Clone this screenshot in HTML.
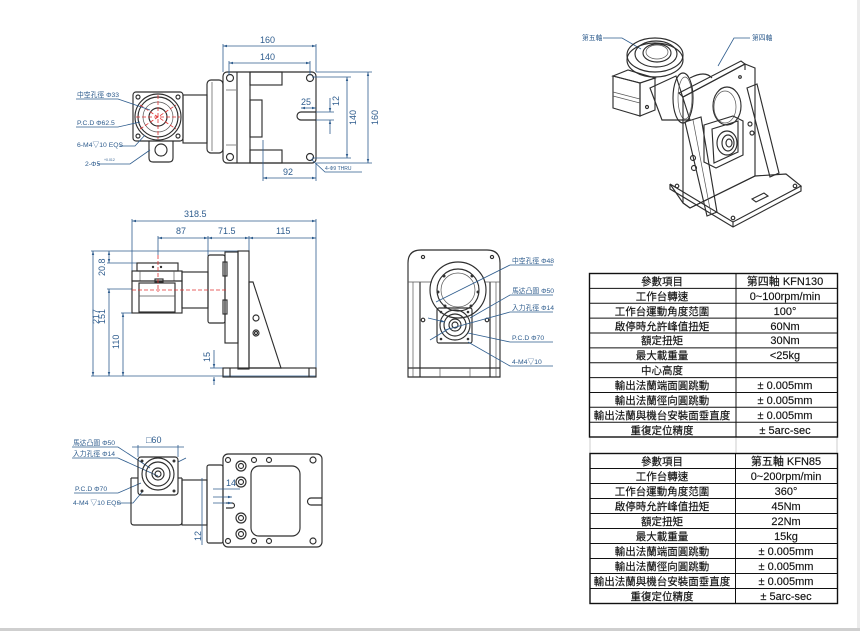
<!DOCTYPE html>
<html><head><meta charset="utf-8">
<style>
html,body{margin:0;padding:0;background:#fff;}
svg{display:block;}
.o{stroke:#2e2e2e;fill:none;stroke-width:1.15;}
.t{stroke:#555;fill:none;stroke-width:.7;}
.d{stroke:#2f5d8e;fill:none;stroke-width:.8;}
.r{stroke:#e03030;fill:none;stroke-width:.8;stroke-dasharray:4 2;}
.dt{fill:#2f5d8e;font-family:"Liberation Sans","Noto Sans CJK TC",sans-serif;font-size:9px;}
.lb{fill:#2f5d8e;font-family:"Liberation Sans","Noto Sans CJK TC",sans-serif;font-size:6.8px;}
.tb{fill:#111;font-family:"Liberation Sans","Noto Sans CJK TC",sans-serif;font-size:10.5px;stroke:#111;stroke-width:.15;}
.tv{fill:#111;font-family:"Liberation Sans","Noto Sans CJK TC",sans-serif;font-size:11px;stroke:#111;stroke-width:.15;}
</style></head>
<body>
<svg width="860" height="631" viewBox="0 0 860 631" xmlns="http://www.w3.org/2000/svg">
<defs>
<marker id="a" viewBox="0 0 10 10" refX="10" refY="5" markerWidth="5" markerHeight="5" orient="auto-start-reverse"><path d="M0,2 L10,5 L0,8z" fill="#2f5d8e"/></marker>
</defs>
<rect x="0" y="0" width="860" height="631" fill="#fff"/>
<rect x="857" y="0" width="3" height="628" fill="#ececec"/>
<rect x="0" y="628" width="860" height="3" fill="#cfcfcf"/>

<!-- ============ DRAWING 1 (top-left) ============ -->
<g>
<rect class="o" x="223" y="72" width="93" height="91" rx="4"/>
<circle class="o" cx="230" cy="78" r="3.5"/><circle class="o" cx="310" cy="78" r="3.5"/>
<circle class="o" cx="230" cy="157" r="3.5"/><circle class="o" cx="310" cy="157" r="3.5"/>
<line class="o" x1="237" y1="72" x2="237" y2="163"/>
<line class="o" x1="250" y1="72" x2="250" y2="163"/>
<rect class="o" x="250" y="72" width="32" height="13"/>
<rect class="o" x="250" y="150" width="32" height="13"/>
<rect class="o" x="250" y="100" width="12" height="37"/>
<line class="t" x1="226" y1="90" x2="236" y2="90"/><line class="t" x1="226" y1="145" x2="236" y2="145"/>
<path class="o" d="M316 112 H301 a4 4 0 0 0 0 8 H316"/>
<rect class="o" x="207" y="80" width="16" height="73" rx="4"/>
<line class="t" x1="212" y1="82" x2="212" y2="151"/>
<rect class="o" x="183" y="95" width="24" height="48"/>
<rect class="o" x="133" y="92" width="50" height="49" rx="3"/>
<circle class="o" cx="138" cy="97" r="2"/><circle class="o" cx="178" cy="97" r="2"/><circle class="o" cx="138" cy="136" r="2"/><circle class="o" cx="178" cy="136" r="2"/>
<circle class="o" cx="158" cy="117" r="23"/>
<circle class="o" cx="158" cy="117" r="20"/>
<circle class="t" cx="158" cy="117" r="15"/>
<circle class="o" cx="158" cy="117" r="9"/>
<path class="o" d="M149 141 V158 q0 4 4 4 H169 q4 0 4 -4 V141"/>
<circle class="o" cx="161" cy="150" r="6"/>
<line class="r" x1="136" y1="117" x2="180" y2="117"/>
<line class="r" x1="158" y1="95" x2="158" y2="139"/>
<line class="r" x1="140" y1="105" x2="176" y2="129"/>
<line class="r" x1="140" y1="129" x2="176" y2="105"/>
<!-- dims -->
<line class="d" x1="223" y1="44" x2="223" y2="72"/><line class="d" x1="316" y1="44" x2="316" y2="72"/>
<line class="d" x1="223" y1="46" x2="316" y2="46" marker-start="url(#a)" marker-end="url(#a)"/>
<text class="dt" x="260" y="43">160</text>
<line class="d" x1="229" y1="61" x2="229" y2="75"/><line class="d" x1="310" y1="61" x2="310" y2="75"/>
<line class="d" x1="229" y1="63" x2="310" y2="63" marker-start="url(#a)" marker-end="url(#a)"/>
<text class="dt" x="260" y="60">140</text>
<line class="d" x1="316" y1="72" x2="372" y2="72"/><line class="d" x1="316" y1="163" x2="372" y2="163"/>
<line class="d" x1="368" y1="72" x2="368" y2="163" marker-start="url(#a)" marker-end="url(#a)"/>
<text class="dt" transform="translate(378,125) rotate(-90)">160</text>
<line class="d" x1="312" y1="77" x2="351" y2="77"/><line class="d" x1="312" y1="158" x2="351" y2="158"/>
<line class="d" x1="347" y1="77" x2="347" y2="158" marker-start="url(#a)" marker-end="url(#a)"/>
<text class="dt" transform="translate(356,125) rotate(-90)">140</text>
<line class="d" x1="316" y1="112" x2="334" y2="112"/><line class="d" x1="316" y1="120" x2="334" y2="120"/>
<line class="d" x1="330" y1="98" x2="330" y2="112" marker-end="url(#a)"/><line class="d" x1="330" y1="134" x2="330" y2="120" marker-end="url(#a)"/>
<text class="dt" transform="translate(339,106) rotate(-90)">12</text>
<line class="d" x1="301" y1="108" x2="316" y2="108" marker-start="url(#a)" marker-end="url(#a)"/>
<text class="dt" x="301" y="105">25</text>
<line class="d" x1="263" y1="140" x2="263" y2="181"/><line class="d" x1="316" y1="163" x2="316" y2="181"/>
<line class="d" x1="263" y1="178" x2="316" y2="178" marker-start="url(#a)" marker-end="url(#a)"/>
<text class="dt" x="283" y="175">92</text>
<polyline class="d" points="311,159 325,172 362,172"/>
<text class="lb" x="325" y="170" style="font-size:5px">4-Φ9 THRU</text>
<!-- labels -->
<text class="lb" x="77" y="97">中空孔徑 Φ33</text>
<polyline class="d" points="76,99 118,99 150,110"/>
<text class="lb" x="77" y="125">P.C.D  Φ62.5</text>
<polyline class="d" points="76,127 118,127 140,122"/>
<text class="lb" x="77" y="147">6-M4▽10 EQS</text>
<polyline class="d" points="120,146 135,146 145,135"/>
<text class="lb" x="85" y="166">2-Φ5</text>
<text class="lb" x="104" y="161" style="font-size:3.5px">+0.012</text>
<polyline class="d" points="98,164 130,164 150,150"/>
</g>

<!-- ============ DRAWING 2 (middle-left) ============ -->
<g>
<line class="d" x1="132" y1="219" x2="132" y2="272"/>
<line class="d" x1="316" y1="219" x2="316" y2="377"/>
<line class="d" x1="132" y1="221" x2="316" y2="221" marker-start="url(#a)" marker-end="url(#a)"/>
<text class="dt" x="184" y="217">318.5</text>
<line class="d" x1="158" y1="236" x2="158" y2="255"/>
<line class="d" x1="208" y1="236" x2="208" y2="256"/>
<line class="d" x1="249" y1="236" x2="249" y2="251"/>
<line class="d" x1="158" y1="238" x2="208" y2="238" marker-start="url(#a)" marker-end="url(#a)"/>
<line class="d" x1="208" y1="238" x2="249" y2="238" marker-start="url(#a)" marker-end="url(#a)"/>
<line class="d" x1="249" y1="238" x2="316" y2="238" marker-start="url(#a)" marker-end="url(#a)"/>
<text class="dt" x="176" y="234">87</text>
<text class="dt" x="218" y="234">71.5</text>
<text class="dt" x="276" y="234">115</text>
<line class="d" x1="91" y1="251" x2="238" y2="251"/>
<line class="d" x1="107" y1="263" x2="137" y2="263"/>
<line class="d" x1="107" y1="289" x2="132" y2="289"/>
<line class="d" x1="121" y1="313" x2="132" y2="313"/>
<line class="d" x1="91" y1="376" x2="316" y2="376"/>
<line class="d" x1="93" y1="251" x2="93" y2="376" marker-start="url(#a)" marker-end="url(#a)"/>
<text class="dt" transform="translate(99,324) rotate(-90)">217</text>
<line class="d" x1="109" y1="251" x2="109" y2="263" marker-start="url(#a)" marker-end="url(#a)"/>
<text class="dt" transform="translate(105,276) rotate(-90)">20.8</text>
<line class="d" x1="109" y1="289" x2="109" y2="376" marker-start="url(#a)" marker-end="url(#a)"/>
<text class="dt" transform="translate(105,324) rotate(-90)">151</text>
<line class="d" x1="123" y1="313" x2="123" y2="376" marker-start="url(#a)" marker-end="url(#a)"/>
<text class="dt" transform="translate(119,349) rotate(-90)">110</text>
<line class="d" x1="214" y1="350" x2="214" y2="368" marker-end="url(#a)"/>
<line class="d" x1="214" y1="385" x2="214" y2="377" marker-end="url(#a)"/>
<line class="d" x1="210" y1="368" x2="223" y2="368"/>
<text class="dt" transform="translate(210,362) rotate(-90)">15</text>
<!-- parts -->
<rect class="o" x="137" y="263" width="41" height="8"/>
<circle cx="153" cy="267" r="1.2" fill="#333"/><circle cx="161" cy="267" r="1.2" fill="#333"/>
<rect class="o" x="132" y="271" width="50" height="10"/>
<line class="t" x1="140" y1="271" x2="140" y2="281"/><line class="t" x1="174" y1="271" x2="174" y2="281"/>
<rect class="o" x="132" y="281" width="50" height="32"/>
<rect class="o" x="139" y="283" width="36" height="29"/>
<line class="t" x1="139" y1="296" x2="175" y2="296"/>
<rect class="o" x="155" y="279" width="8" height="3"/>
<rect class="o" x="182" y="272" width="26" height="36"/>
<rect class="o" x="208" y="255" width="17" height="68" rx="2"/>
<rect class="o" x="225" y="252" width="13" height="91"/>
<rect class="o" x="223" y="262" width="4" height="14"/><rect class="o" x="223" y="300" width="4" height="14"/>
<rect class="o" x="238" y="251" width="11" height="118"/>
<polygon class="o" points="249,282 253,282 281,368 249,368"/>
<circle class="o" cx="256" cy="318" r="3"/>
<circle class="o" cx="256" cy="333" r="3"/><circle class="o" cx="256" cy="333" r="1.5"/>
<rect class="o" x="223" y="368" width="93" height="9"/>
<line class="o" x1="230" y1="368" x2="230" y2="377"/><line class="o" x1="309" y1="368" x2="309" y2="377"/>
<line class="r" x1="158" y1="255" x2="158" y2="292"/>
<line class="r" x1="132" y1="290" x2="228" y2="290"/>
</g>

<!-- ============ DRAWING 3 (middle-center) ============ -->
<g>
<path class="o" d="M408 377 V263 Q408 250 421 250 H487 Q500 250 500 263 V377 Z"/>
<line class="o" x1="408" y1="368" x2="500" y2="368"/>
<line class="t" x1="413" y1="282" x2="413" y2="377"/>
<line class="o" x1="420" y1="282" x2="420" y2="377"/>
<line class="o" x1="490" y1="282" x2="490" y2="377"/>
<line class="t" x1="496" y1="282" x2="496" y2="377"/>
<line class="t" x1="408" y1="282" x2="432" y2="282"/><line class="t" x1="484" y1="282" x2="500" y2="282"/>
<line class="t" x1="440" y1="368" x2="440" y2="377"/><line class="t" x1="470" y1="368" x2="470" y2="377"/>
<circle class="o" cx="423" cy="257" r="1.6"/><circle class="o" cx="492" cy="257" r="1.6"/>
<circle class="o" cx="423" cy="320" r="1.8"/><circle class="o" cx="487" cy="320" r="1.8"/>
<circle class="o" cx="458" cy="290" r="28"/>
<circle class="o" cx="458" cy="290" r="21"/>
<circle class="t" cx="458" cy="290" r="17"/>
<circle cx="444" cy="276" r="1.5" fill="#333"/><circle cx="472" cy="276" r="1.5" fill="#333"/>
<circle cx="438" cy="292" r="1.5" fill="#333"/><circle cx="478" cy="292" r="1.5" fill="#333"/>
<circle cx="445" cy="306" r="1.5" fill="#333"/><circle cx="471" cy="306" r="1.5" fill="#333"/>
<rect class="o" x="437" y="308" width="35" height="35" rx="2" fill="#fff"/>
<circle class="o" cx="455" cy="325" r="15"/>
<circle class="o" cx="455" cy="325" r="11"/>
<circle class="o" cx="455" cy="325" r="6"/>
<circle class="o" cx="455" cy="325" r="3"/>
<circle cx="441" cy="312" r="1.3" fill="#333"/><circle cx="468" cy="312" r="1.3" fill="#333"/>
<circle cx="441" cy="339" r="1.3" fill="#333"/><circle cx="468" cy="339" r="1.3" fill="#333"/>
<text class="lb" x="512" y="263">中空孔徑 Φ48</text>
<polyline class="d" points="553,265 510,265 436,302"/>
<text class="lb" x="512" y="293">馬达凸圍 Φ50</text>
<polyline class="d" points="553,295 510,295 470,318"/>
<text class="lb" x="512" y="310">入力孔徑 Φ14</text>
<polyline class="d" points="553,312 510,312 445,330"/>
<text class="lb" x="512" y="340">P.C.D  Φ70</text>
<polyline class="d" points="553,342 510,342 468,333"/>
<text class="lb" x="512" y="364">4-M4▽10</text>
<polyline class="d" points="553,366 510,366 468,342"/>
<line class="d" x1="428" y1="318" x2="445" y2="322" marker-end="url(#a)"/>
<line class="d" x1="430" y1="340" x2="450" y2="328"/>
</g>

<!-- ============ DRAWING 4 (bottom-left) ============ -->
<g>
<text class="lb" x="73" y="445">馬达凸圍 Φ50</text>
<polyline class="d" points="72,447 118,447 150,468"/>
<text class="lb" x="73" y="456">入力孔徑 Φ14</text>
<polyline class="d" points="72,458 118,458 158,476"/>
<text class="lb" x="75" y="491">P.C.D  Φ70</text>
<polyline class="d" points="74,493 118,493 141,483"/>
<text class="lb" x="73" y="505">4-M4 ▽10 EQS</text>
<polyline class="d" points="117,503 133,503 143,491"/>
<text class="dt" x="146" y="443">□60</text>
<line class="d" x1="138" y1="445" x2="138" y2="457"/><line class="d" x1="178" y1="445" x2="178" y2="457"/>
<line class="d" x1="132" y1="447" x2="184" y2="447"/>
<line class="d" x1="178" y1="462" x2="186" y2="458"/>
<path class="o" d="M131 478 V522 q0 3 3 3 H179 q3 0 3 -3 V478"/>
<line class="o" x1="131" y1="478" x2="138" y2="478"/><line class="o" x1="178" y1="478" x2="182" y2="478"/>
<rect class="o" x="138" y="457" width="40" height="38" rx="3" fill="#fff"/>
<circle cx="142" cy="461" r="1.5" fill="#333"/><circle cx="174" cy="461" r="1.5" fill="#333"/>
<circle cx="142" cy="491" r="1.5" fill="#333"/><circle cx="174" cy="491" r="1.5" fill="#333"/>
<circle class="o" cx="158" cy="474" r="16"/>
<circle class="o" cx="158" cy="474" r="12"/>
<circle class="o" cx="158" cy="474" r="6"/>
<circle class="o" cx="158" cy="474" r="3"/>
<rect class="o" x="182" y="480" width="25" height="45"/>
<rect class="o" x="207" y="465" width="16" height="78" rx="2"/>
<rect class="o" x="223" y="454" width="99" height="93" rx="5"/>
<rect class="o" x="251" y="466" width="49" height="70" rx="8"/>
<path class="o" d="M322 498 H311 a3 3 0 0 0 0 7 H322"/>
<circle class="o" cx="241" cy="466" r="5"/><circle class="o" cx="241" cy="466" r="2.5"/>
<circle class="o" cx="241" cy="482" r="5"/><circle class="o" cx="241" cy="482" r="2.5"/>
<circle class="o" cx="241" cy="518" r="5"/><circle class="o" cx="241" cy="518" r="2.5"/>
<circle class="o" cx="241" cy="534" r="5"/><circle class="o" cx="241" cy="534" r="2.5"/>
<circle class="o" cx="228" cy="460" r="2.5"/><circle class="o" cx="254" cy="460" r="2.5"/><circle class="o" cx="269" cy="460" r="2.5"/><circle class="o" cx="313" cy="460" r="3"/>
<circle class="o" cx="228" cy="541" r="2.5"/><circle class="o" cx="254" cy="541" r="2.5"/><circle class="o" cx="269" cy="541" r="2.5"/><circle class="o" cx="313" cy="541" r="3"/>
<path class="o" d="M226 503 H232 a2.5 2.5 0 0 1 0 5 H226"/>
<text class="dt" x="226" y="486">14</text>
<line class="d" x1="213" y1="489" x2="240" y2="489"/>
<line class="d" x1="213" y1="497" x2="232" y2="497" marker-end="url(#a)"/>
<line class="d" x1="213" y1="503" x2="232" y2="503" marker-end="url(#a)"/>
<line class="d" x1="202" y1="478" x2="202" y2="545"/>
<text class="dt" transform="translate(201,541) rotate(-90)">12</text>
</g>

<!-- ============ DRAWING 5 (3D view) ============ -->
<g>
<text class="lb" x="582" y="40">第五軸</text>
<polyline class="d" points="603,38 622,38 641,49"/>
<text class="lb" x="752" y="40">第四軸</text>
<polyline class="d" points="750,38 734,38 718,66"/>
<!-- connecting cylinder -->
<path class="o" d="M650 88 L676 76 L690 120 L662 120 Z" fill="#fff"/>
<ellipse class="o" cx="683" cy="98" rx="10" ry="25" fill="#fff"/>
<ellipse class="t" cx="685" cy="98" rx="7" ry="21"/>
<!-- 5th axis gearbox block -->
<polygon class="o" points="613,76 640,83 640,116 613,108" fill="#fff"/>
<polygon class="o" points="640,83 655,78 655,110 640,116" fill="#fff"/>
<polygon class="o" points="613,76 628,70 655,78 640,83" fill="#fff"/>
<line class="t" x1="613" y1="92" x2="640" y2="99"/><line class="t" x1="613" y1="96" x2="640" y2="103"/>
<circle class="o" cx="647" cy="107" r="1.5"/>
<!-- rotary table -->
<ellipse class="o" cx="655" cy="60" rx="28" ry="17" fill="#fff"/>
<ellipse class="o" cx="655" cy="55" rx="28" ry="17" fill="#fff"/>
<ellipse class="o" cx="656" cy="54" rx="21" ry="13"/>
<ellipse class="o" cx="657" cy="53" rx="14" ry="9"/>
<ellipse class="t" cx="657" cy="52" rx="11" ry="7"/>
<!-- upright plate -->
<polygon class="o" points="679,93 741,61 745,64 683,97" fill="#fff"/>
<polygon class="o" points="683,97 745,64 755,68 755,176 690,208 683,203" fill="#fff"/>
<line class="o" x1="745" y1="64" x2="745" y2="70"/>
<ellipse class="o" cx="727" cy="106" rx="14" ry="19"/>
<ellipse class="t" cx="725" cy="107" rx="11" ry="16"/>
<circle class="o" cx="740" cy="77" r="1.3"/>
<!-- base plate -->
<polygon class="o" points="670,184 733,222 801,186 786,174 755,176 690,208 683,203" fill="#fff"/>
<polyline class="o" points="670,184 670,189 733,227 801,191 801,186"/>
<line class="o" x1="733" y1="222" x2="733" y2="227"/>
<path class="o" d="M752 199 L764 193 L768 196 L756 202 Z"/>
<circle class="o" cx="677" cy="186" r="1.8"/><circle class="o" cx="733" cy="218" r="1.8"/><circle class="o" cx="795" cy="186" r="1.8"/>
<!-- left gusset -->
<polygon class="o" points="685,122 701,117 717,212 707,216" fill="#fff"/>
<line class="t" x1="693" y1="120" x2="711" y2="214"/>
<circle class="o" cx="693" cy="158" r="2.5"/><circle class="o" cx="694" cy="168" r="2.5"/>
<!-- right gusset -->
<polygon class="o" points="747,88 757,84 779,173 770,177" fill="#fff"/>
<circle class="o" cx="750" cy="124" r="2"/><circle class="o" cx="752" cy="133" r="2"/>
<!-- gearbox on plate -->
<polygon class="o" points="704,125 733,116 743,121 743,155 716,168 704,162" fill="#fff"/>
<polygon class="o" points="712,129 738,121 738,152 714,163" fill="#fff"/>
<ellipse class="o" cx="727" cy="143" rx="10" ry="12"/>
<ellipse class="o" cx="728" cy="143" rx="6" ry="8"/>
<ellipse class="o" cx="729" cy="143" rx="3" ry="4"/>
<!-- flange ring of 4th axis -->
<path class="o" d="M690 78 Q705 70 712 78"/>
</g>

<!-- ============ TABLE 1 ============ -->
<g>
<line x1="590" y1="437" x2="590" y2="453" stroke="#ccc" stroke-width="1"/>
<line x1="736" y1="437" x2="736" y2="453" stroke="#ccc" stroke-width="1"/>
<line x1="837" y1="437" x2="837" y2="453" stroke="#ccc" stroke-width="1"/>
<rect x="589.5" y="273.5" width="248" height="163.5" fill="none" stroke="#111" stroke-width="1.4"/>
<line x1="736" y1="273.5" x2="736" y2="437" stroke="#111" stroke-width="1"/>
<g stroke="#111" stroke-width="1">
<line x1="589.5" y1="288.4" x2="837.5" y2="288.4"/>
<line x1="589.5" y1="303.3" x2="837.5" y2="303.3"/>
<line x1="589.5" y1="318.1" x2="837.5" y2="318.1"/>
<line x1="589.5" y1="333" x2="837.5" y2="333"/>
<line x1="589.5" y1="347.9" x2="837.5" y2="347.9"/>
<line x1="589.5" y1="362.7" x2="837.5" y2="362.7"/>
<line x1="589.5" y1="377.6" x2="837.5" y2="377.6"/>
<line x1="589.5" y1="392.5" x2="837.5" y2="392.5"/>
<line x1="589.5" y1="407.3" x2="837.5" y2="407.3"/>
<line x1="589.5" y1="422.2" x2="837.5" y2="422.2"/>
</g>
<g class="tb" text-anchor="middle">
<text x="662" y="285">參數項目</text>
<text x="662" y="300">工作台轉速</text>
<text x="662" y="315">工作台運動角度范圍</text>
<text x="662" y="330">啟停時允許峰值扭矩</text>
<text x="662" y="344">額定扭矩</text>
<text x="662" y="359">最大載重量</text>
<text x="662" y="374">中心高度</text>
<text x="662" y="389">輸出法蘭端面圓跳動</text>
<text x="662" y="404">輸出法蘭徑向圓跳動</text>
<text x="662" y="419">輸出法蘭與機台安裝面垂直度</text>
<text x="662" y="434">重復定位精度</text>
</g>
<g class="tv" text-anchor="middle">
<text x="785" y="285">第四軸 KFN130</text>
<text x="785" y="300">0~100rpm/min</text>
<text x="785" y="315">100°</text>
<text x="785" y="330">60Nm</text>
<text x="785" y="344">30Nm</text>
<text x="785" y="359">&lt;25kg</text>
<text x="785" y="389">±  0.005mm</text>
<text x="785" y="404">±  0.005mm</text>
<text x="785" y="419">±  0.005mm</text>
<text x="785" y="434">±  5arc-sec</text>
</g>
</g>

<!-- ============ TABLE 2 ============ -->
<g>
<rect x="590" y="453.5" width="247.5" height="150" fill="none" stroke="#111" stroke-width="1.4"/>
<line x1="735.5" y1="453.5" x2="735.5" y2="603.5" stroke="#111" stroke-width="1"/>
<g stroke="#111" stroke-width="1">
<line x1="590" y1="468.5" x2="837.5" y2="468.5"/>
<line x1="590" y1="483.5" x2="837.5" y2="483.5"/>
<line x1="590" y1="498.5" x2="837.5" y2="498.5"/>
<line x1="590" y1="513.5" x2="837.5" y2="513.5"/>
<line x1="590" y1="528.5" x2="837.5" y2="528.5"/>
<line x1="590" y1="543.5" x2="837.5" y2="543.5"/>
<line x1="590" y1="558.5" x2="837.5" y2="558.5"/>
<line x1="590" y1="573.5" x2="837.5" y2="573.5"/>
<line x1="590" y1="588.5" x2="837.5" y2="588.5"/>
</g>
<g class="tb" text-anchor="middle">
<text x="662" y="465">參數項目</text>
<text x="662" y="480">工作台轉速</text>
<text x="662" y="495">工作台運動角度范圍</text>
<text x="662" y="510">啟停時允許峰值扭矩</text>
<text x="662" y="525">額定扭矩</text>
<text x="662" y="540">最大載重量</text>
<text x="662" y="555">輸出法蘭端面圓跳動</text>
<text x="662" y="570">輸出法蘭徑向圓跳動</text>
<text x="662" y="585">輸出法蘭與機台安裝面垂直度</text>
<text x="662" y="600">重復定位精度</text>
</g>
<g class="tv" text-anchor="middle">
<text x="786" y="465">第五軸 KFN85</text>
<text x="786" y="480">0~200rpm/min</text>
<text x="786" y="495">360°</text>
<text x="786" y="510">45Nm</text>
<text x="786" y="525">22Nm</text>
<text x="786" y="540">15kg</text>
<text x="786" y="555">±  0.005mm</text>
<text x="786" y="570">±  0.005mm</text>
<text x="786" y="585">±  0.005mm</text>
<text x="786" y="600">±  5arc-sec</text>
</g>
</g>
</svg>
</body></html>
